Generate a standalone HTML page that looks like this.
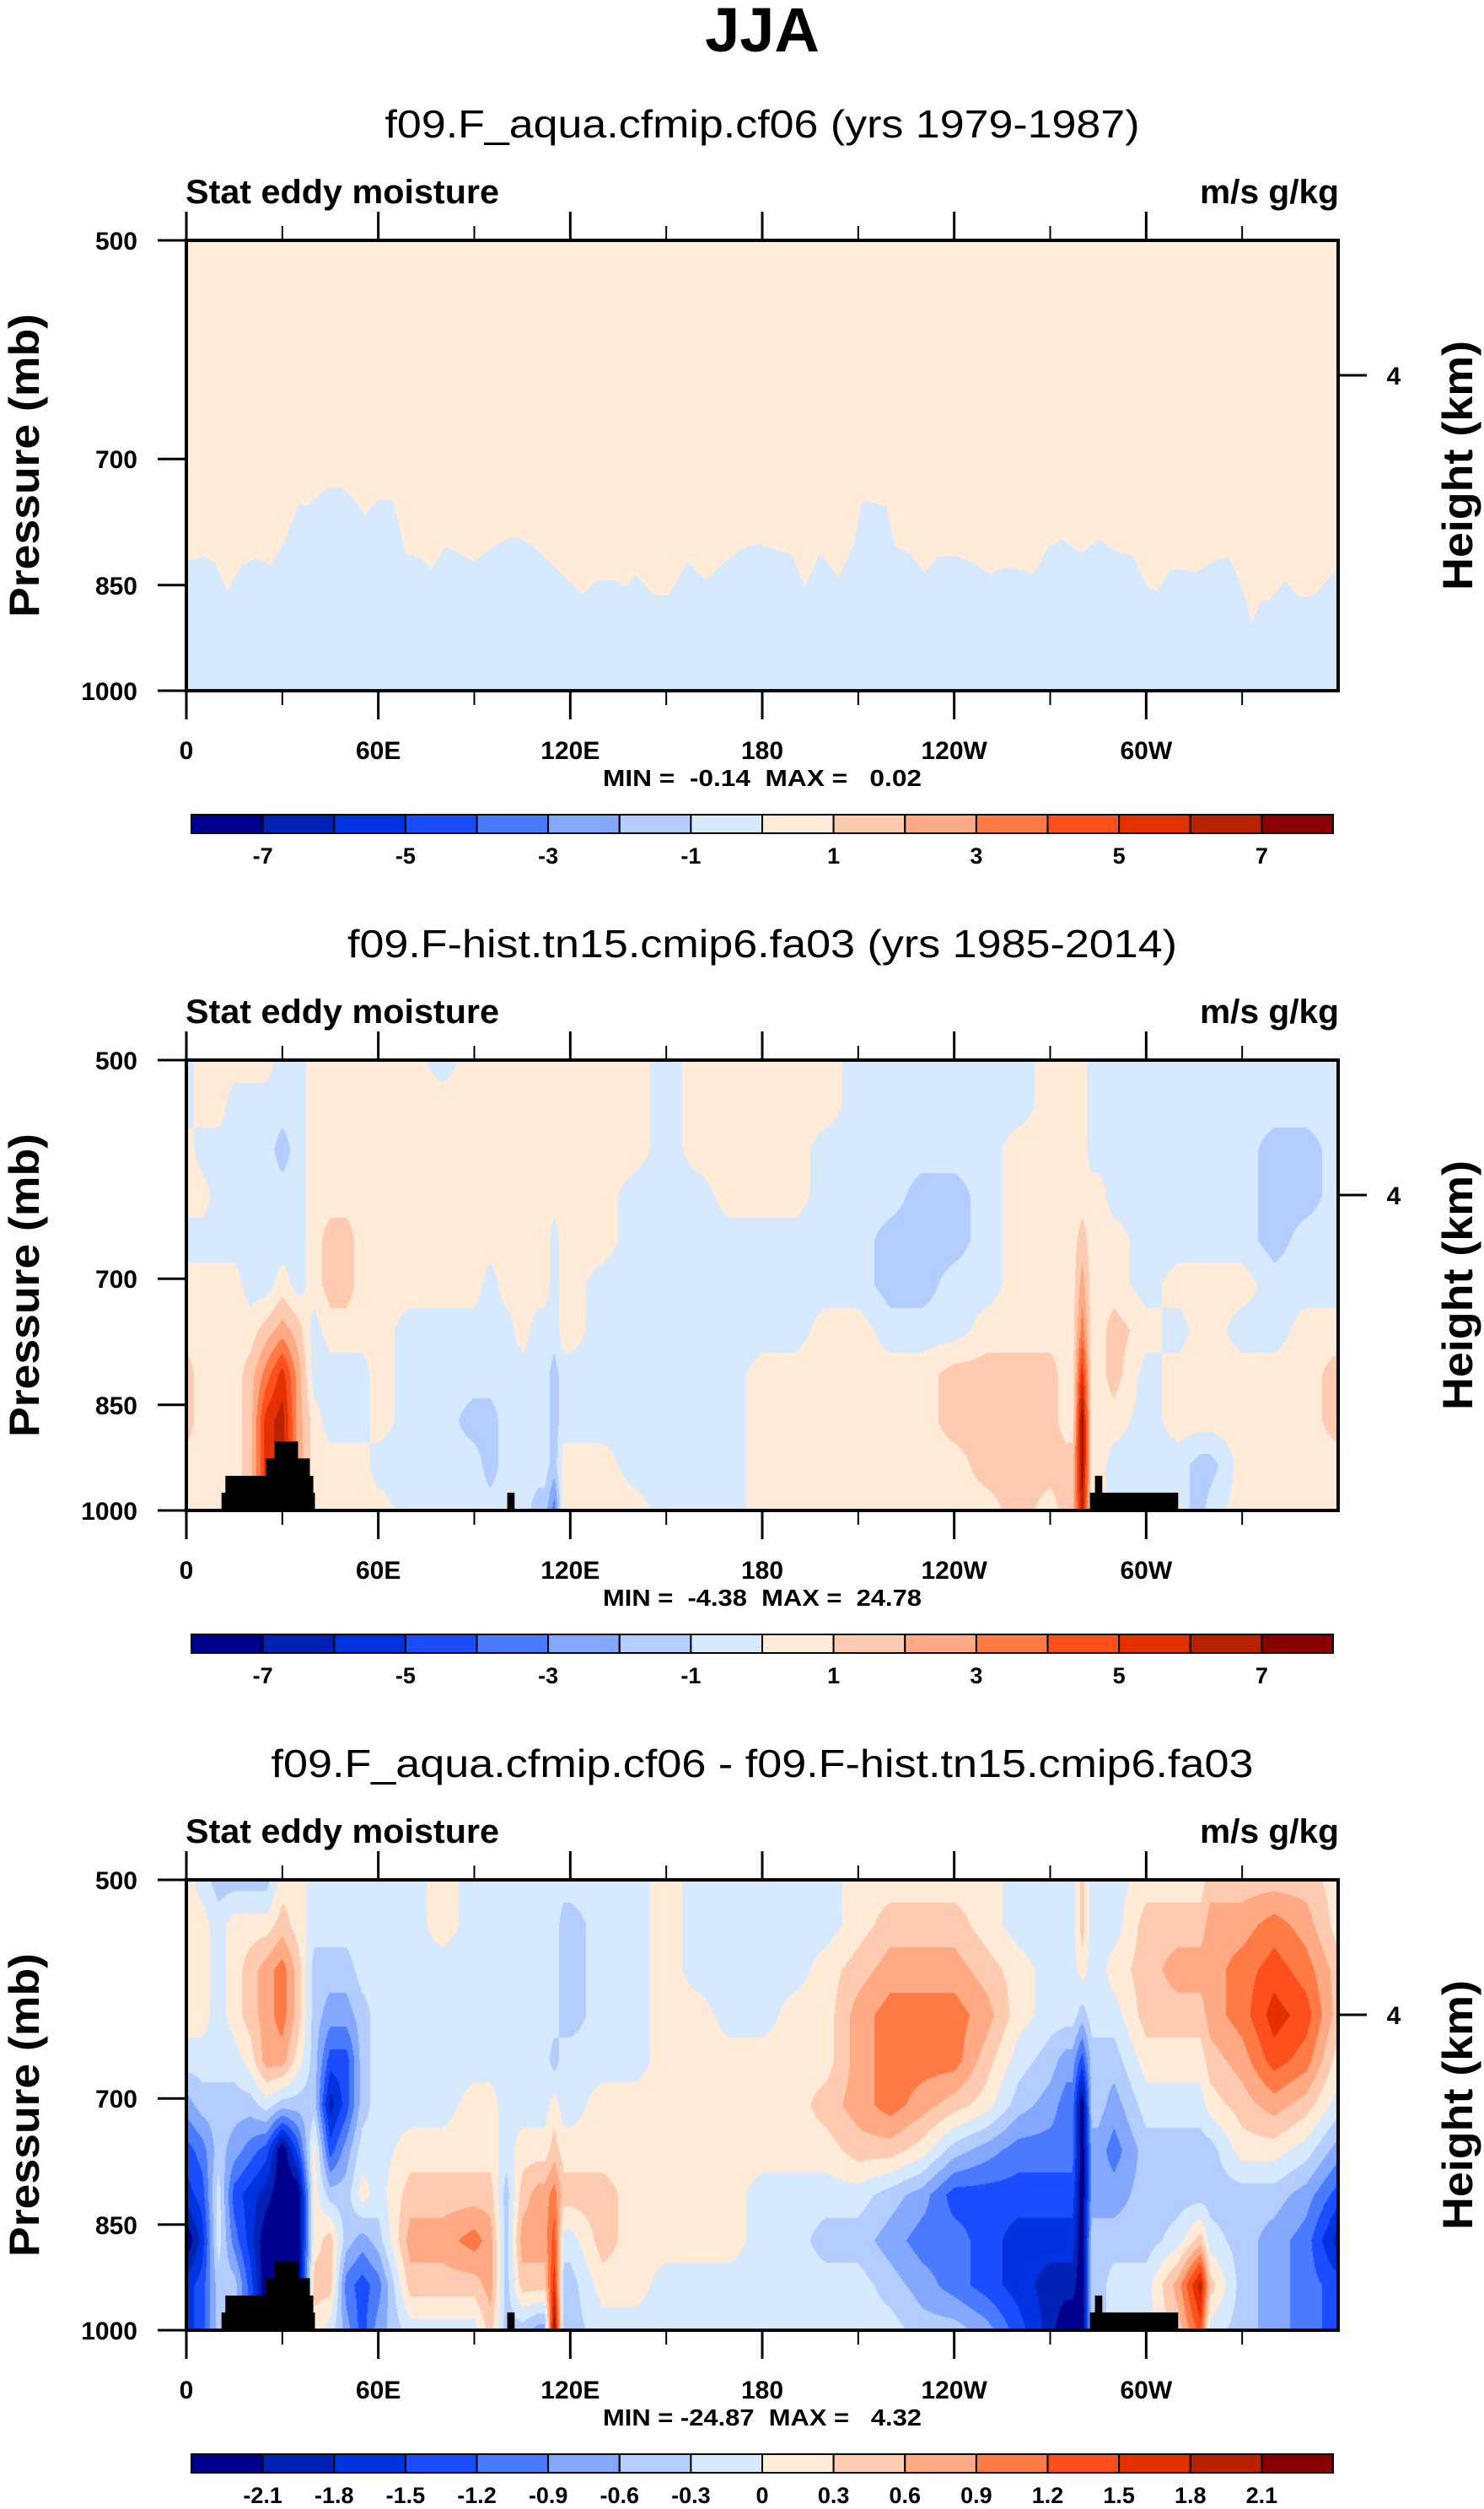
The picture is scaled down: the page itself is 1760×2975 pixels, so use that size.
<!DOCTYPE html>
<html><head><meta charset="utf-8"><title>JJA Stat eddy moisture</title>
<style>
html,body{margin:0;padding:0;background:#fff;}
#root{position:relative;width:1760px;height:2975px;overflow:hidden;background:#fff;}
canvas{position:absolute;}
svg{position:absolute;left:0;top:0;}
text{font-family:"Liberation Sans",Arial,sans-serif;fill:#000;}
</style></head>
<body>
<div id="root">
<canvas id="c2" width="1366" height="534" style="left:221px;top:1257px"></canvas>
<canvas id="c3" width="1366" height="534" style="left:221px;top:2229px"></canvas>
<svg id="svg" width="1760" height="2975" xmlns="http://www.w3.org/2000/svg">
<text x="904" y="61" text-anchor="middle" font-size="74" font-weight="bold">JJA</text>
</svg>
</div>
<script>
// ---------- data ----------
const colors=["#00008f","#0022b4","#0033e0","#1a4dff","#4a7aff","#85a8ff","#b3cdff","#d6e9ff","#ffebd8","#ffcbb0","#ffaa84","#ff7a45","#ff4f1c","#e33200","#b82200","#880000"];
const cbLabelsA=["-7","","-5","","-3","","-1","","1","","3","","5","","7"];
const cbLevelsA=[-7,-6,-5,-4,-3,-2,-1,0,1,2,3,4,5,6,7];
const cbLabelsB=["-2.1","-1.8","-1.5","-1.2","-0.9","-0.6","-0.3","0","0.3","0.6","0.9","1.2","1.5","1.8","2.1"];
const cbLevelsB=[-2.1,-1.8,-1.5,-1.2,-0.9,-0.6,-0.3,0,0.3,0.6,0.9,1.2,1.5,1.8,2.1];
const xTickLon=[0,60,120,180,240,300];
const xTickLabels=["0","60E","120E","180","120W","60W"];
const xMinorLon=[30,90,150,210,270,330];
const yTickP=[500,700,850,1000];
const yTickLabels=["500","700","850","1000"];
const subtitles=["f09.F_aqua.cfmip.cf06 (yrs 1979-1987)","f09.F-hist.tn15.cmip6.fa03 (yrs 1985-2014)","f09.F_aqua.cfmip.cf06 - f09.F-hist.tn15.cmip6.fa03"];
const subtitleWidths=[895,984,1165];
const minmaxText=["MIN =  -0.14  MAX =   0.02","MIN =  -4.38  MAX =  24.78","MIN = -24.87  MAX =   4.32"];

// panel 1: boundary between positive (above) and negative (below)
const p1Lon=[0,5.4,9.3,12.8,17.3,21.7,26.2,30.6,35.2,38,44,48.4,52.8,55.8,60.2,64.6,68.5,73.5,76.5,80.9,85.4,89.8,94.3,98.7,103.2,107.6,113.5,119.4,123.9,128.3,134.2,137.2,140.2,146.1,150.6,156.5,162.4,168.4,174.3,178.7,184.7,189.1,193.5,198,203.9,208.4,211.3,218.7,221.7,226.1,230.6,235,241,246.9,251.3,255.8,261.7,264.7,269.1,273.6,279.5,285.4,289.9,295.8,300.3,303.3,307.7,312.1,315.1,321,325.5,328.4,331.4,332.9,335.8,338.8,343.3,347.7,352.2,356.6,360];
const p1Bound=[820,813,823,858,824,815,825,795,750,752,732,731,746,763,745,746,809,816,830,802,809,820,806,795,789,798,820,844,862,844,844,851,837,862,864,820,844,820,802,798,806,810,851,809,840,802,746,753,802,809,834,813,813,823,836,827,830,837,802,792,809,792,806,813,851,858,830,830,834,820,813,837,872,903,872,869,844,865,865,844,827];

// grid for panels 2 and 3
const gridLon=[0,5,10,15,20,25,30,35,40,45,50,55,60,70,80,90,95,100,105,110,112,115,118,120,130,140,150,160,170,180,190,200,210,220,230,240,250,260,270,275,277,280,283,285,290,300,310,317,320,330,340,350,360];
const gridP=[500,536,574,616,660,707,758,812,871,933,1000];

const p2Vals=[
[-.5,-.5,.5,.5,-.5,.5,.5,1.5,1.5,.5,.5],
[.5,.5,-.5,.5,-.5,.5,.5,.5,.5,.5,.5],
[.5,.5,-.5,-.5,-.5,.5,.5,.5,.5,.5,.5],
[.5,-.5,-.5,-.5,-.5,.5,.5,.5,.5,.5,.5],
[.5,-.5,-.5,-.5,-.5,-.5,.5,1.5,1.5,1.5,1.5],
[.5,-.5,-.5,-.5,-.5,-.5,1.5,3.5,5.5,5.5,5.5],
[-.5,-.5,-1.5,-.5,-.5,.5,2.5,5.5,6.5,6.5,6.5],
[-.5,-.5,-.5,-.5,-.5,-.5,1.5,2.5,2.5,2.5,2.5],
[.5,.5,.5,.5,.5,.5,-.5,-.5,.5,.5,.5],
[.5,.5,.5,.5,1.5,1.5,.5,-.5,-.5,.5,.5],
[.5,.5,.5,.5,1.5,1.5,.5,-.5,-.5,.5,.5],
[.5,.5,.5,.5,.5,.5,.5,-.5,-.5,.5,.5],
[.5,.5,.5,.5,.5,.5,.5,.5,.5,-.5,.5],
[.5,.5,.5,.5,.5,.5,-.5,-.5,-.5,-.5,-.5],
[-.5,.5,.5,.5,.5,.5,-.5,-.5,-.5,-.5,-.5],
[.5,.5,.5,.5,.5,.5,-.5,-.5,-1.5,-.5,-.5],
[.5,.5,.5,.5,.5,-.5,-.5,-.5,-1.5,-1.5,-.5],
[.5,.5,.5,.5,.5,.5,-.5,-.5,-.5,-.5,-.5],
[.5,.5,.5,.5,.5,.5,.5,-.5,-.5,-.5,-.5],
[.5,.5,.5,.5,.5,.5,-.5,-.5,-.5,-.5,-1.5],
[.5,.5,.5,.5,.5,.5,-.5,-.5,-.5,-.5,-1.5],
[.5,.5,.5,.5,-.5,-.5,-.5,-1.5,-1.5,-1.5,-3.5],
[.5,.5,.5,.5,.5,.5,.5,-.5,-.5,.5,.5],
[.5,.5,.5,.5,.5,.5,.5,-.5,-.5,.5,.5],
[.5,.5,.5,.5,.5,-.5,-.5,-.5,-.5,.5,.5],
[.5,.5,.5,-.5,-.5,-.5,-.5,-.5,-.5,-.5,.5],
[-.5,-.5,-.5,-.5,-.5,-.5,-.5,-.5,-.5,-.5,-.5],
[.5,.5,.5,-.5,-.5,-.5,-.5,-.5,-.5,-.5,-.5],
[.5,.5,.5,.5,-.5,-.5,-.5,-.5,-.5,-.5,-.5],
[.5,.5,.5,.5,-.5,-.5,-.5,.5,.5,.5,.5],
[.5,.5,.5,.5,-.5,-.5,-.5,.5,.5,.5,.5],
[.5,.5,-.5,-.5,-.5,-.5,.5,.5,.5,.5,.5],
[-.5,-.5,-.5,-.5,-.5,-.5,.5,.5,.5,.5,.5],
[-.5,-.5,-.5,-.5,-1.5,-1.5,-.5,.5,.5,.5,.5],
[-.5,-.5,-.5,-1.5,-1.5,-1.5,-.5,.5,.5,.5,.5],
[-.5,-.5,-.5,-1.5,-1.5,-.5,-.5,1.5,1.5,.5,.5],
[-.5,-.5,-.5,-.5,-.5,-.5,.5,1.5,1.5,1.5,.5],
[-.5,-.5,.5,.5,.5,.5,.5,1.5,1.5,1.5,1.5],
[.5,.5,.5,.5,.5,.5,.5,1.5,1.5,1.5,.5],
[.5,.5,.5,.5,.5,.5,.5,.5,.5,1.5,1.5],
[.5,.5,.5,.5,.5,.5,.5,.5,.5,1.5,1.5],
[.5,.5,.5,.5,1.5,2.5,3.5,5.5,7.5,7.5,6.5],
[-.5,-.5,-.5,.5,.5,.5,.5,.5,.5,.5,.5],
[-.5,-.5,-.5,.5,.5,.5,.5,.5,.5,.5,.5],
[-.5,-.5,-.5,-.5,.5,.5,1.5,1.5,.5,-.5,-.5],
[-.5,-.5,-.5,-.5,-.5,-.5,.5,-.5,-.5,-.5,-.5],
[-.5,-.5,-.5,-.5,-.5,.5,-.5,.5,.5,-.5,-.5],
[-.5,-.5,-.5,-.5,-.5,.5,.5,.5,.5,-1.5,-1.5],
[-.5,-.5,-.5,-.5,-.5,.5,.5,.5,.5,-1.5,-.5],
[-.5,-.5,-.5,-.5,-.5,.5,-.5,.5,.5,.5,.5],
[-.5,-.5,-1.5,-1.5,-1.5,-.5,-.5,.5,.5,.5,.5],
[-.5,-.5,-1.5,-1.5,-.5,-.5,.5,.5,.5,.5,.5],
[-.5,-.5,-.5,-.5,-.5,-.5,.5,1.5,1.5,.5,.5]];

const p3Vals=[
[.15,.15,.15,.15,-.15,-.75,-1.35,-1.65,-2.4,-1.65,-1.65],
[-.15,.15,.15,.15,-.15,-.45,-1.05,-1.35,-1.65,-1.35,-1.35],
[-.45,-.15,-.15,-.15,-.15,-.45,-.45,-.15,-.15,-.45,-.45],
[-.45,.15,.15,.15,-.15,-.45,-.75,-1.35,-1.05,-.45,-.45],
[-.45,.15,.45,.45,.15,-.45,-1.05,-1.65,-1.65,-1.35,-1.35],
[-.45,.15,.75,.75,.75,-.15,-1.35,-1.95,-2.4,-2.4,-2.4],
[.15,.45,1.05,1.05,.75,-.45,-2.4,-2.4,-2.4,-2.4,-2.4],
[.15,.15,.45,.45,.15,-.45,-1.35,-2.4,-2.4,-2.4,-2.4],
[-.15,-.15,-.45,-.45,-.45,-.45,.15,.15,.15,.45,.15],
[-.15,-.15,-.45,-.75,-1.35,-1.95,-1.35,-.45,.45,.45,-.15],
[-.15,-.15,-.45,-.75,-1.35,-1.35,-.75,-.45,-.45,-1.05,-.75],
[-.15,-.15,-.15,-.45,-.45,-.45,-.15,.15,-.75,-1.35,-1.35],
[-.15,-.15,-.15,-.15,-.15,-.15,-.15,-.15,-.45,-1.05,-.75],
[-.15,-.15,-.15,-.15,-.15,-.15,.15,.45,.75,.45,-.15],
[.15,.15,-.15,-.15,-.15,-.15,.15,.45,.75,.45,-.15],
[-.15,-.15,-.15,-.15,-.15,.15,.15,.45,1.05,.45,-.15],
[-.15,-.15,-.15,-.15,-.15,.15,.15,.45,.75,.75,.45],
[-.15,-.15,-.15,-.15,-.15,-.15,-.15,-.45,-.45,-.45,-.45],
[-.15,-.15,-.15,-.15,-.15,-.15,.15,.45,.75,.45,-.45],
[-.15,-.15,-.15,-.15,-.15,-.15,.15,.75,.75,.45,-.75],
[-.15,-.15,-.15,-.15,-.15,-.15,.15,.75,.75,.45,-.75],
[-.15,-.15,-.15,-.15,-.45,.15,.45,1.05,1.35,1.65,2.3],
[-.15,-.45,-.45,-.45,-.15,-.15,.15,.45,-.15,-.45,-.45],
[-.15,-.45,-.45,-.45,-.15,-.15,.15,.45,-.15,-.45,-.45],
[-.15,-.15,-.15,-.15,-.15,.15,.15,.45,.45,.15,-.15],
[-.15,-.15,-.15,-.15,-.15,.15,.15,.15,.15,.15,-.15],
[.15,.15,.15,.15,.15,.15,.15,.15,.15,-.15,-.15],
[-.15,-.15,-.15,.15,.15,.15,.15,.15,.15,-.15,-.15],
[-.15,-.15,-.15,-.15,.15,.15,.15,.15,.15,-.15,-.15],
[-.15,-.15,-.15,-.15,.15,.15,.15,-.15,-.15,-.15,-.15],
[-.15,-.15,-.15,.15,.15,.15,.15,-.15,-.15,-.15,-.15],
[-.15,-.15,.15,.15,.15,.45,.15,-.15,-.45,-.15,-.15],
[.15,.15,.45,.75,.75,.75,.45,-.15,-.45,-.15,-.15],
[.15,.45,.75,1.05,1.05,1.05,.45,-.45,-.75,-.45,-.15],
[.15,.45,.75,1.05,1.05,.75,.15,-.75,-1.05,-.75,-.45],
[.15,.45,.75,1.05,1.05,.45,-.45,-1.35,-1.05,-1.05,-.45],
[.15,.15,.45,.75,.45,.15,-.75,-1.35,-1.35,-1.35,-.75],
[-.15,-.15,.15,.15,-.15,-.45,-1.05,-1.35,-1.65,-1.65,-1.35],
[-.15,-.15,-.15,-.15,-.45,-.75,-1.05,-1.35,-1.65,-1.95,-1.95],
[-.15,-.15,-.15,-.15,-.75,-1.05,-1.05,-1.35,-1.65,-1.95,-2.4],
[-.15,-.15,-.15,-.15,-.75,-1.05,-1.05,-1.35,-1.65,-1.95,-2.4],
[.45,.45,.15,-.45,-1.35,-2.4,-2.4,-2.4,-2.4,-2.4,-2.4],
[-.15,-.15,-.15,-.15,-.45,-.45,-.75,-.75,-.45,-.45,-.45],
[-.15,-.15,-.15,-.15,-.45,-.45,-.75,-.75,-.45,-.45,-.45],
[-.15,-.15,.15,-.15,-.45,-.75,-1.05,-.75,-.45,-.15,-.15],
[.15,.45,.45,.45,.15,-.15,-.45,-.45,-.45,-.15,-.15],
[.15,.45,.75,.45,.15,-.15,-.45,-.45,-.15,.75,.45],
[.15,.45,.75,.45,.15,-.15,-.45,-.45,.45,1.95,1.35],
[.45,.75,.75,.75,.45,.15,-.45,-.45,-.15,.45,-.15],
[.45,.75,1.05,1.05,.75,.45,.15,-.45,-.45,-.45,-.45],
[.45,1.05,1.35,1.65,1.35,.75,.15,-.45,-.75,-.75,-.75],
[.45,.75,1.05,1.35,1.05,.45,-.15,-.75,-1.05,-1.05,-1.05],
[.15,.15,.45,.45,.15,-.15,-.75,-1.35,-1.95,-1.35,-1.35]];

// topography (below-ground mask)
const topoStart=[11.0,12.2,24.8,27.6,100.3,282.4,284.0];
const topoEnd=[40.2,39.7,38.6,34.9,102.6,310.0,286.3];
const topoTop=[973,948,923,899,973,973,948];

// ---------- layout ----------
const X0=221,W=1366,H=534;
const tops=[285,1257,2229];
const NS="http://www.w3.org/2000/svg";
const svg=document.getElementById('svg');
function xOf(lon){return X0+lon/360*W;}
function yOf(p,top){return top+Math.log2(p/500)*H;}
function mk(tag,attrs,parent){const e=document.createElementNS(NS,tag);for(const k in attrs)e.setAttribute(k,attrs[k]);(parent||svg).appendChild(e);return e;}
function txt(s,attrs){const e=mk('text',attrs);e.textContent=s;return e;}

// ---------- contour canvases ----------
function classify(v,levels){let k=0;while(k<levels.length&&v>=levels[k])k++;return k;}
function hex(c){return [parseInt(c.substr(1,2),16),parseInt(c.substr(3,2),16),parseInt(c.substr(5,2),16)];}
const rgb=colors.map(hex);
function drawGrid(id,vals,levels){
  const cv=document.getElementById(id),ctx=cv.getContext('2d');
  const img=ctx.createImageData(W,H),d=img.data;
  const colIdx=[],colT=[];
  for(let px=0;px<W;px++){const lon=(px+0.5)/W*360;let j=0;while(j<gridLon.length-2&&lon>gridLon[j+1])j++;colIdx.push(j);colT.push((lon-gridLon[j])/(gridLon[j+1]-gridLon[j]));}
  for(let py=0;py<H;py++){
    const p=500*Math.pow(2,(py+0.5)/H);let i=0;while(i<gridP.length-2&&p>gridP[i+1])i++;
    const u=(Math.log(p)-Math.log(gridP[i]))/(Math.log(gridP[i+1])-Math.log(gridP[i]));
    for(let px=0;px<W;px++){
      const j=colIdx[px],t=colT[px];
      const a=vals[j][i],b=vals[j+1][i],c=vals[j][i+1],e=vals[j+1][i+1];
      const v=(a*(1-t)+b*t)*(1-u)+(c*(1-t)+e*t)*u;
      const col=rgb[classify(v,levels)];const o=(py*W+px)*4;
      d[o]=col[0];d[o+1]=col[1];d[o+2]=col[2];d[o+3]=255;
    }
  }
  ctx.putImageData(img,0,0);
}
drawGrid('c2',p2Vals,cbLevelsA);
drawGrid('c3',p3Vals,cbLevelsB);

// ---------- panel 1 fill ----------
{
  const top=tops[0];
  const bg=mk('rect',{x:X0,y:top,width:W,height:H,fill:colors[8]});
  
  
  let d='M'+xOf(0)+','+(top+H);
  for(let k=0;k<p1Lon.length;k++)d+=' L'+xOf(p1Lon[k]).toFixed(1)+','+yOf(p1Bound[k],top).toFixed(1);
  d+=' L'+xOf(360)+','+(top+H)+' Z';
  const neg=mk('path',{d:d,fill:colors[7]});
  
  
}

// ---------- axes, labels per panel ----------
for(let n=0;n<3;n++){
  const top=tops[n],bot=top+H;
  if(n>0){for(let k=0;k<topoStart.length;k++){
    const r=mk('rect',{x:xOf(topoStart[k]).toFixed(1),y:yOf(topoTop[k],top).toFixed(1),width:(xOf(topoEnd[k])-xOf(topoStart[k])).toFixed(1),height:(bot-yOf(topoTop[k],top)).toFixed(1),fill:'#000'});
    
    
  }}
  const box=mk('rect',{x:X0,y:top,width:W,height:H,fill:'none',stroke:'#000','stroke-width':4});
  
  
  const st=txt(subtitles[n],{x:904,y:top-122,'text-anchor':'middle','font-size':46,textLength:subtitleWidths[n],lengthAdjust:'spacingAndGlyphs'});
  
  
  const lt=txt('Stat eddy moisture',{x:220,y:top-44,'font-size':40,'font-weight':'bold',textLength:372,lengthAdjust:'spacingAndGlyphs'});
  
  
  const ut=txt('m/s g/kg',{x:1588,y:top-44,'font-size':40,'font-weight':'bold','text-anchor':'end',textLength:165,lengthAdjust:'spacingAndGlyphs'});
  
  
  for(let k=0;k<xTickLon.length;k++){
    const x=xOf(xTickLon[k]);
    const t1=mk('line',{x1:x,x2:x,y1:top-34,y2:top,stroke:'#000','stroke-width':3});
    
    
    const t2=mk('line',{x1:x,x2:x,y1:bot,y2:bot+34,stroke:'#000','stroke-width':3});
    
    
    const lb=txt(xTickLabels[k],{x:x,y:bot+81,'text-anchor':'middle','font-size':30,'font-weight':'bold'});
    
    
  }
  for(let k=0;k<xMinorLon.length;k++){
    const x=xOf(xMinorLon[k]);
    const m1=mk('line',{x1:x,x2:x,y1:top-17,y2:top,stroke:'#000','stroke-width':2});
    
    
    const m2=mk('line',{x1:x,x2:x,y1:bot,y2:bot+17,stroke:'#000','stroke-width':2});
    
    
  }
  for(let k=0;k<yTickP.length;k++){
    const y=yOf(yTickP[k],top);
    const t=mk('line',{x1:187,x2:X0,y1:y,y2:y,stroke:'#000','stroke-width':3});
    
    
    const lb=txt(yTickLabels[k],{x:163,y:y+11,'text-anchor':'end','font-size':30,'font-weight':'bold'});
    
    
  }
  const ry=top+160;
  const rt=mk('line',{x1:X0+W,x2:1621,y1:ry,y2:ry,stroke:'#000','stroke-width':3});
  
  
  const rl=txt('4',{x:1653,y:ry+11,'text-anchor':'middle','font-size':30,'font-weight':'bold'});
  
  
  const yt=txt('Pressure (mb)',{x:0,y:0,'text-anchor':'middle','font-size':50,'font-weight':'bold',textLength:360,lengthAdjust:'spacingAndGlyphs',transform:'translate(46,'+(top+267)+') rotate(-90)'});
  
  
  const ht=txt('Height (km)',{x:0,y:0,'text-anchor':'middle','font-size':50,'font-weight':'bold',textLength:296,lengthAdjust:'spacingAndGlyphs',transform:'translate(1746,'+(top+267)+') rotate(-90)'});
  
  
  const mm=txt(minmaxText[n],{x:904,y:bot+113,'text-anchor':'middle','font-size':28,'font-weight':'bold',textLength:378,lengthAdjust:'spacingAndGlyphs',style:'white-space:pre'});
  
  
  const cbY=top+681,cbX0=227,cbX1=1581,cw=(cbX1-cbX0)/16;
  for(let k=0;k<16;k++){
    const r=mk('rect',{x:(cbX0+k*cw).toFixed(1),y:cbY,width:cw.toFixed(1),height:22,fill:colors[k],stroke:'#000','stroke-width':2});
    
    
  }
  const labs=n<2?cbLabelsA:cbLabelsB;
  for(let k=0;k<15;k++){
    if(!labs[k])continue;
    const l=txt(labs[k],{x:(cbX0+(k+1)*cw).toFixed(1),y:top+739,'text-anchor':'middle','font-size':27,'font-weight':'bold'});
    
    
  }
}
</script>
</body></html>
